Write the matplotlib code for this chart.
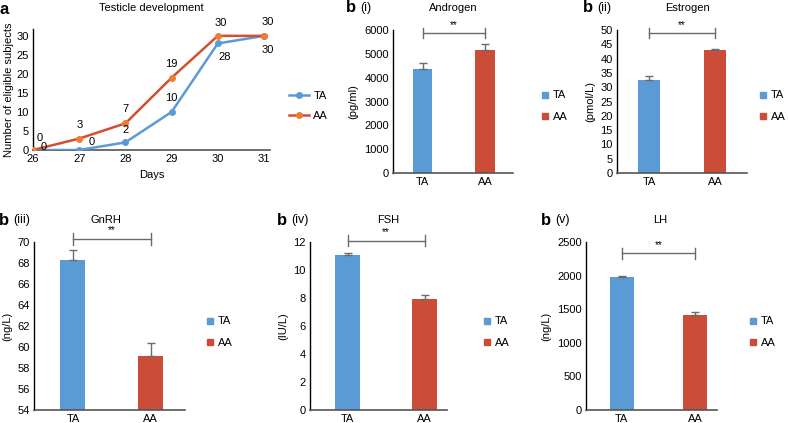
import numpy as np
from matplotlib import pyplot as plt
from matplotlib.lines import Line2D

plt.rcParams['font.family'] = ['Liberation Sans', 'DejaVu Sans']

# panel a data
days = [26, 27, 28, 29, 30, 31]
ta_count = [0, 0, 2, 10, 28, 30]
aa_count = [0, 3, 7, 19, 30, 30]

# panel b data (mean, upper error) for TA / AA
groups = ["TA", "AA"]
androgen = [4380, 5180]
androgen_err = [220, 220]
estrogen = [32.5, 43.0]
estrogen_err = [1.5, 0.5]
gnrh = [68.3, 59.1]
gnrh_err = [0.9, 1.3]
fsh = [11.05, 7.95]
fsh_err = [0.15, 0.25]
lh = [1975, 1415]
lh_err = [25, 40]

BLUE = "#5b9bd5"
RED = "#cb4d38"
ORANGE = "#ed7d31"
LINE_RED = "#d24f30"
GRAY = "#6b6b6b"

W, H = 788, 423
fig = plt.figure(figsize=(W / 100, H / 100), dpi=100)


def px_axes(x0, y0, x1, y1):
    # pixel box (left, top, right, bottom) -> axes
    return fig.add_axes([x0 / W, 1 - y1 / H, (x1 - x0) / W, (y1 - y0) / H])


def style(ax):
    for s in ["top", "right"]:
        ax.spines[s].set_visible(False)
    ax.spines["left"].set_color("black")
    ax.spines["left"].set_linewidth(1.0)
    ax.spines["bottom"].set_color("#555555")
    ax.spines["bottom"].set_linewidth(1.2)
    ax.tick_params(length=0, labelsize=8, pad=3)


# ---- panel a
ax = px_axes(33, 29, 270, 150)
style(ax)
ax.plot(days, ta_count, color=BLUE, lw=1.8, marker="o", ms=4,
        mfc=BLUE, mec=BLUE, zorder=3)
ax.plot(days, aa_count, color=LINE_RED, lw=1.8, marker="o", ms=4,
        mfc=ORANGE, mec=ORANGE, zorder=3)
ax.set_xlim(26, 31.13)
ax.set_ylim(0, 31.8)
ax.set_xticks(days)
ax.set_yticks(range(0, 31, 5))
ax.set_xlabel("Days", fontsize=8, labelpad=4)
ax.set_ylabel("Number of eligible subjects", fontsize=8, labelpad=2)
ax.set_title("Testicle development", fontsize=8, pad=13)
ta_off = [(8, 2), (9, 6), (0, 9), (0, 10), (5, -10), (3, -10)]
aa_off = [(5, 9), (0, 10), (0, 10), (0, 10), (2, 9), (3, 10)]
for d, v, o in zip(days, ta_count, ta_off):
    ax.annotate(str(v), (d, v), xytext=o, textcoords="offset points",
                ha="center", va="center", fontsize=8, annotation_clip=False)
for d, v, o in zip(days, aa_count, aa_off):
    ax.annotate(str(v), (d, v), xytext=o, textcoords="offset points",
                ha="center", va="center", fontsize=8, annotation_clip=False)
fig.text(0 / W, 1 - 9 / H, "a", fontsize=12, fontweight="bold", va="center")
leg = [Line2D([0], [0], color=BLUE, lw=1.8, marker="o", ms=4, mfc=BLUE, mec=BLUE),
       Line2D([0], [0], color=LINE_RED, lw=1.8, marker="o", ms=4, mfc=ORANGE, mec=ORANGE)]
fig.legend(leg, groups, loc="center left", bbox_to_anchor=(289 / W, 1 - 106 / H),
           frameon=False, fontsize=8, handlelength=1.8, labelspacing=0.9,
           handletextpad=0.4, borderpad=0, borderaxespad=0)


def bar_panel(box, xlim, vals, errs, ylim, yticks, unit, title, tag,
              bracket_y, tag_x, title_x, leg_x, leg_y, bw=0.32):
    ax = px_axes(*box)
    style(ax)
    x = np.arange(len(groups))
    ax.bar(x, vals, width=bw, color=[BLUE, RED], zorder=2)
    ax.errorbar(x, vals, yerr=[[0, 0], errs], fmt="none", ecolor=GRAY,
                elinewidth=1, capsize=3, capthick=1, zorder=3)
    ax.set_xlim(*xlim)
    ax.set_ylim(*ylim)
    ax.set_yticks(yticks)
    ax.set_xticks(x)
    ax.set_xticklabels(groups)
    ax.set_ylabel(unit, fontsize=8, labelpad=4)
    # significance bracket
    ax.plot([0, 1], [bracket_y, bracket_y], color=GRAY, lw=1, clip_on=False)
    span = ylim[1] - ylim[0]
    for xi in (0, 1):
        ax.plot([xi, xi], [bracket_y - span * 0.035, bracket_y + span * 0.035],
                color=GRAY, lw=1, clip_on=False)
    ax.text(0.5, bracket_y + span * 0.02, "**", ha="center", va="bottom",
            fontsize=7, clip_on=False)
    top = box[1]
    ty = top - 22
    fig.text(title_x / W, 1 - ty / H, title, fontsize=8, ha="center", va="center")
    fig.text(tag_x / W, 1 - ty / H, "b", fontsize=12, fontweight="bold", va="center")
    fig.text((tag_x + 14) / W, 1 - ty / H, tag, fontsize=9, va="center")
    hs = [Line2D([0], [0], ls="", marker="s", ms=5, color=c) for c in (BLUE, RED)]
    fig.legend(hs, groups, loc="center left",
               bbox_to_anchor=(leg_x / W, 1 - leg_y / H), frameon=False,
               fontsize=8, handlelength=0.7, labelspacing=1.0, handletextpad=0.4,
               borderpad=0, borderaxespad=0)
    return ax


bar_panel((393, 30, 513, 173), (-0.48, 1.45), androgen, androgen_err,
          (0, 6000), range(0, 6001, 1000), "(pg/ml)", "Androgen", "(i)",
          5890, 346, 453, 541, 106, bw=0.31)
bar_panel((617, 30, 747, 173), (-0.485, 1.485), estrogen, estrogen_err,
          (0, 50), range(0, 51, 5), "(pmol/L)", "Estrogen", "(ii)",
          48.8, 583, 687, 759, 106)
bar_panel((34, 242, 185, 410), (-0.5, 1.44), gnrh, gnrh_err,
          (54, 70), range(54, 71, 2), "(ng/L)", "GnRH", "(iii)",
          70.3, -1, 106, 206, 332)
bar_panel((310, 242, 447, 410), (-0.49, 1.29), fsh, fsh_err,
          (0, 12), range(0, 13, 2), "(IU/L)", "FSH", "(iv)",
          12.1, 277, 388, 483, 332)
bar_panel((586, 242, 717, 410), (-0.49, 1.3), lh, lh_err,
          (0, 2500), range(0, 2501, 500), "(ng/L)", "LH", "(v)",
          2330, 541, 660, 749, 332)

fig.savefig("out.png", dpi=100)
